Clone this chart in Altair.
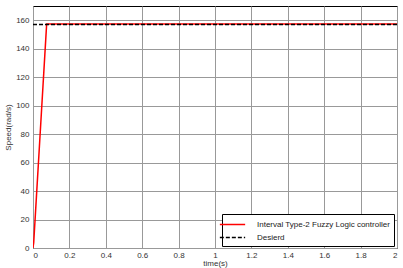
import altair as alt
import pandas as pd

ctrl_t = [0.0, 0.004, 0.075, 2.0]
ctrl_v = [0.0, 4.0, 157.3, 157.3]
des_t = [0.0, 2.0]
des_v = [157.0, 157.0]
names = ["Interval Type-2 Fuzzy Logic controller", "Desierd"]
x_ticks = [0, 0.2, 0.4, 0.6, 0.8, 1.0, 1.2, 1.4, 1.6, 1.8, 2.0]
y_ticks = [0, 20, 40, 60, 80, 100, 120, 140, 160]

df = pd.concat([
    pd.DataFrame({"t": ctrl_t, "v": ctrl_v, "s": names[0], "o": range(len(ctrl_t))}),
    pd.DataFrame({"t": des_t, "v": des_v, "s": names[1], "o": range(len(des_t))}),
])

FONT = "Liberation Sans"

chart = alt.Chart(df).mark_line(strokeWidth=1.5, clip=True).encode(
    x=alt.X("t:Q", scale=alt.Scale(domain=[0, 2], nice=False),
            axis=alt.Axis(values=x_ticks, format="~g", title="time(s)",
                          grid=True, tickSize=0, labelPadding=3, titlePadding=0)),
    y=alt.Y("v:Q", scale=alt.Scale(domain=[0, 170], nice=False),
            axis=alt.Axis(values=y_ticks, title="Speed(rad/s)", grid=True,
                          tickSize=0, labelPadding=4, titlePadding=3)),
    color=alt.Color("s:N", scale=alt.Scale(domain=names, range=["#ff0000", "#000000"]),
                    legend=alt.Legend(title=None, orient="none", legendX=189, legendY=208,
                                      symbolType="M-2.3,0H2.3", symbolSize=121, symbolStrokeWidth=1.5,
                                      strokeColor="#000000", fillColor="#ffffff", padding=4,
                                      labelFont=FONT, labelFontSize=8, labelColor="#222222",
                                      rowPadding=2, labelOffset=18)),
    strokeDash=alt.StrokeDash("s:N", scale=alt.Scale(domain=names, range=[[1, 0], [4, 2]]),
                              legend=None),
    order="o:Q",
).properties(
    width=364, height=242,
    autosize=alt.AutoSizeParams(type="none"),
    padding={"left": 33, "top": 6, "right": 6, "bottom": 20},
).configure_view(
    stroke="#000000", strokeWidth=1
).configure_axis(
    gridColor="#999999", gridOpacity=1, gridWidth=1, domain=False,
    labelFont=FONT, labelFontSize=8, labelColor="#333333",
    titleFont=FONT, titleFontSize=8, titleFontWeight="normal", titleColor="#333333",
)

chart.save("out.html", embed_options={"renderer": "svg", "actions": False})
